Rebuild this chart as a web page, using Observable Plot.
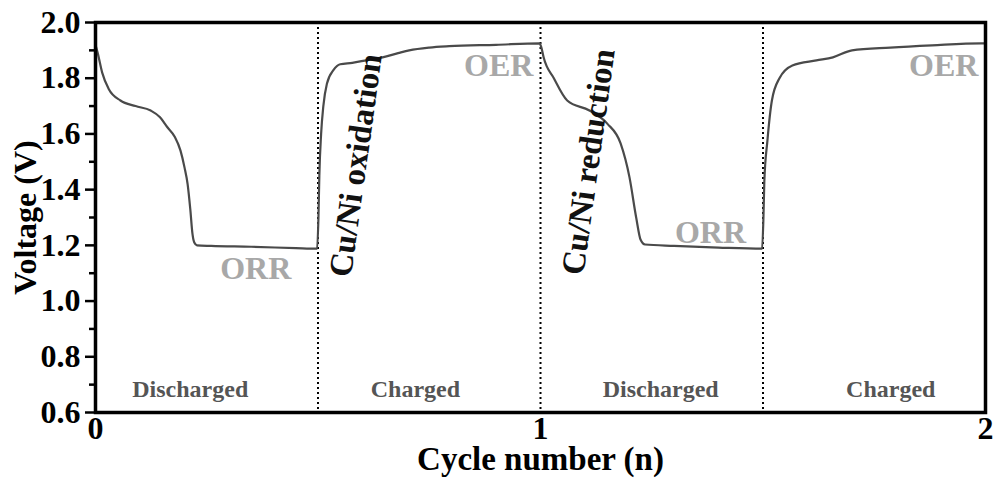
<!DOCTYPE html>
<html>
<head>
<meta charset="utf-8">
<script src="https://cdn.jsdelivr.net/npm/d3@7"></script>
<script src="https://cdn.jsdelivr.net/npm/@observablehq/plot@0.6"></script>
<style>
  html, body { margin: 0; padding: 0; background: #fff; }
</style>
</head>
<body>
<div id="chart"></div>
<script>
// Cycle position (n) and voltage (V)
const cycle = [
  0.000, 0.005, 0.015, 0.030, 0.056, 0.090, 0.124, 0.145, 0.162, 0.178, 0.191, 0.200, 0.207, 0.213, 0.218, 0.222, 0.228, 0.260, 0.350, 0.450, 0.498,
  0.501, 0.503, 0.507, 0.512, 0.520, 0.535, 0.550, 0.577, 0.610, 0.645, 0.680, 0.705, 0.750, 0.795, 0.900, 0.998,
  1.002, 1.007, 1.030, 1.060, 1.110, 1.150, 1.180, 1.200, 1.215, 1.225, 1.235, 1.300, 1.400, 1.498,
  1.501, 1.503, 1.510, 1.520, 1.537, 1.566, 1.620, 1.657, 1.700, 1.786, 1.880, 1.990, 2.000
];
const voltage = [
  1.920, 1.890, 1.820, 1.760, 1.720, 1.700, 1.684, 1.660, 1.623, 1.590, 1.540, 1.480, 1.420, 1.330, 1.240, 1.210, 1.200, 1.198, 1.195, 1.190, 1.188,
  1.300, 1.450, 1.600, 1.700, 1.780, 1.830, 1.850, 1.855, 1.865, 1.875, 1.890, 1.900, 1.910, 1.915, 1.920, 1.925,
  1.910, 1.875, 1.800, 1.720, 1.684, 1.637, 1.566, 1.444, 1.300, 1.220, 1.203, 1.198, 1.192, 1.188,
  1.300, 1.430, 1.577, 1.720, 1.800, 1.846, 1.864, 1.875, 1.900, 1.910, 1.918, 1.925, 1.925
];

// Half-cycle boundaries (dotted lines)
const boundaries = [0.5, 1.0, 1.5];

// Ticks
const yTicks = [0.6, 0.8, 1.0, 1.2, 1.4, 1.6, 1.8, 2.0];
const yMinorTicks = [0.7, 0.9, 1.1, 1.3, 1.5, 1.7, 1.9];
const xTicks = [0, 1, 2];

// Region labels
const stateLabels = ["Discharged", "Charged", "Discharged", "Charged"];
const stateX = [0.213, 0.719, 1.27, 1.787];
const stateY = [0.683, 0.683, 0.683, 0.683];

// Reaction labels
const reactLabels = ["ORR", "OER", "ORR", "OER"];
const reactX = [0.36, 0.906, 1.382, 1.906];
const reactY = [1.117, 1.846, 1.246, 1.846];

// Process labels
const procLabels = ["Cu/Ni oxidation", "Cu/Ni reduction"];
const procX = [0.585, 1.108];
const procY = [1.487, 1.50];

const curve = cycle.map((c, i) => ({x: c, y: voltage[i]}));
const states = stateLabels.map((t, i) => ({t, x: stateX[i], y: stateY[i]}));
const reacts = reactLabels.map((t, i) => ({t, x: reactX[i], y: reactY[i]}));
const procs = procLabels.map((t, i) => ({t, x: procX[i], y: procY[i]}));

const font = "'Liberation Serif', 'DejaVu Serif', serif";

const chart = Plot.plot({
  width: 1000,
  height: 485,
  marginLeft: 95,
  marginRight: 15,
  marginTop: 22,
  marginBottom: 73,
  style: {fontFamily: font, background: "#fff", color: "#000"},
  x: {domain: [0, 2]},
  y: {domain: [0.6, 2.0]},
  marks: [
    Plot.ruleX(boundaries, {stroke: "#000", strokeWidth: 2, strokeDasharray: "2,3"}),
    Plot.line(curve, {x: "x", y: "y", stroke: "#4a4a4a", strokeWidth: 2.2, curve: "monotone-x"}),
    Plot.text(states, {x: "x", y: "y", text: "t", fontSize: 24, fontWeight: "bold", fill: "#555"}),
    Plot.text(reacts, {x: "x", y: "y", text: "t", fontSize: 32, fontWeight: "bold", fill: "#a8a8a8"}),
    Plot.text(procs, {x: "x", y: "y", text: "t", fontSize: 33, fontWeight: "bold", fill: "#111", rotate: -82}),
    Plot.axisY({ticks: yMinorTicks, tickSize: 6, text: null, strokeWidth: 2.5, label: null}),
    Plot.axisY({ticks: yTicks, tickSize: 10, tickPadding: 5, tickFormat: d3.format(".1f"),
      fontSize: 32, fontWeight: "bold", strokeWidth: 2.5, label: null}),
    Plot.axisY({ticks: [], fontSize: 32, fontWeight: "bold",
      label: "Voltage (V)", labelAnchor: "center", labelArrow: "none", labelOffset: 82}),
    Plot.axisX({ticks: xTicks, tickSize: 0, tickPadding: 4, tickFormat: d3.format("d"),
      fontSize: 32, fontWeight: "bold", label: null}),
    Plot.axisX({ticks: [], fontSize: 33, fontWeight: "bold",
      label: "Cycle number (n)", labelAnchor: "center", labelArrow: "none", labelOffset: 57}),
    Plot.frame({stroke: "#000", strokeWidth: 3.5})
  ]
});

document.getElementById("chart").appendChild(chart);
</script>
</body>
</html>
